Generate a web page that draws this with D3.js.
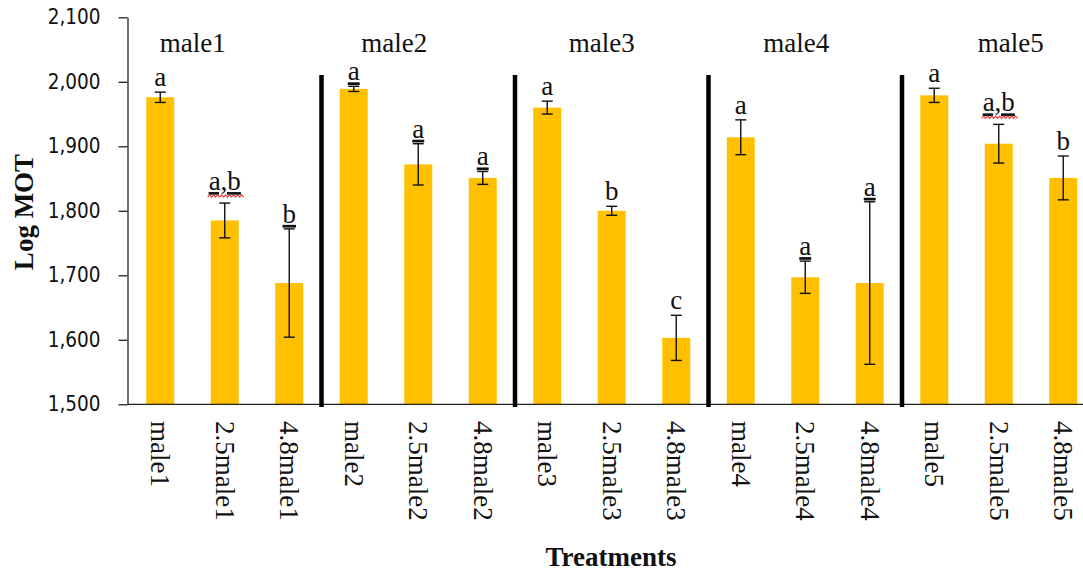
<!DOCTYPE html>
<html>
<head>
<meta charset="utf-8">
<script src="https://cdn.jsdelivr.net/npm/d3@7"></script>
<style>
  html, body { margin: 0; padding: 0; background: #fff; }
  svg { display: block; }
</style>
</head>
<body>
<svg id="chart" width="1083" height="574"></svg>
<script>
// ---- data ----
const categories = ["male1","2.5male1","4.8male1","male2","2.5male2","4.8male2","male3","2.5male3","4.8male3","male4","2.5male4","4.8male4","male5","2.5male5","4.8male5"];
const groups = ["male1","male2","male3","male4","male5"];
const means  = [1976, 1785, 1688, 1989, 1872, 1851, 1960, 1800, 1603, 1914, 1697, 1688, 1979, 1904, 1851];
const errors = [8, 27, 84, 4, 32, 10, 10, 7, 35, 27, 25, 126, 11, 30, 34];
const letters = ["a","a,b","b","a","a","a","a","b","c","a","a","a","a","a,b","b"];
const yTicks = [1500, 1600, 1700, 1800, 1900, 2000, 2100];

// ---- layout / style ----
const serif = "'Liberation Serif','Times New Roman',serif";
const sans = "'DejaVu Sans Condensed','DejaVu Sans',sans-serif";
const barColor = "#FFC000";
const groupLabelDx = [-32, -24, -10, -9, 12];
const underlined = new Set([1, 2, 3, 4, 5, 10, 11, 13]);
const spellChecked = new Set([1, 13]);

const svg = d3.select("#chart");
const x = d3.scaleBand().domain(categories).range([128, 1095.5]).paddingInner(0.566).paddingOuter(0.283);
const y = d3.scaleLinear().domain([1500, 2100]).range([404.3, 17.3]);

const data = categories.map((c, i) => ({ c, i, v: means[i], e: errors[i], l: letters[i] }));

// bars
svg.append("g").selectAll("rect").data(data).join("rect")
  .attr("x", d => x(d.c)).attr("width", x.bandwidth())
  .attr("y", d => y(d.v)).attr("height", d => y(1500) - y(d.v))
  .attr("fill", barColor);

// y axis
const yAxis = d3.axisLeft(y).tickValues(yTicks).tickSize(9).tickSizeOuter(0).tickPadding(18).tickFormat(d3.format(","));
const gy = svg.append("g").attr("transform", "translate(127.5,0)").call(yAxis);
gy.select(".domain").attr("stroke", "#222").attr("stroke-width", 1.3);
gy.selectAll(".tick line").attr("stroke", "#222").attr("stroke-width", 1.3);
gy.selectAll(".tick text").attr("font-family", sans).attr("font-size", 20.5).attr("fill", "#111");

// x axis line
svg.append("line").attr("x1", 127.5).attr("x2", 1083).attr("y1", y(1500)).attr("y2", y(1500))
  .attr("stroke", "#222").attr("stroke-width", 1.3);

// x labels rotated
svg.append("g").selectAll("text").data(data).join("text")
  .attr("transform", d => `translate(${x(d.c) + x.bandwidth() / 2},421) rotate(90)`)
  .attr("dominant-baseline", "central")
  .attr("font-family", serif).attr("font-size", 27).attr("fill", "#111")
  .text(d => d.c);

// group separators
const halfGap = x.step() * x.paddingInner() / 2;
svg.append("g").selectAll("line").data(groups.slice(1)).join("line")
  .attr("x1", (g, k) => x(categories[(k + 1) * 3]) - halfGap)
  .attr("x2", (g, k) => x(categories[(k + 1) * 3]) - halfGap)
  .attr("y1", 75).attr("y2", 407)
  .attr("stroke", "#000").attr("stroke-width", 4.5);

// group labels
svg.append("g").selectAll("text").data(groups).join("text")
  .attr("x", (g, k) => (x(categories[k * 3]) + x(categories[k * 3 + 2]) + x.bandwidth()) / 2 + groupLabelDx[k])
  .attr("y", 52)
  .attr("text-anchor", "middle")
  .attr("font-family", serif).attr("font-size", 27).attr("fill", "#111")
  .text(g => g);

// error bars
const eb = svg.append("g").attr("stroke", "#111").attr("stroke-width", 1.4);
data.forEach(d => {
  const cx = x(d.c) + x.bandwidth() / 2;
  eb.append("line").attr("x1", cx).attr("x2", cx).attr("y1", y(d.v + d.e)).attr("y2", y(d.v - d.e));
  eb.append("line").attr("x1", cx - 5.5).attr("x2", cx + 5.5).attr("y1", y(d.v + d.e)).attr("y2", y(d.v + d.e));
  eb.append("line").attr("x1", cx - 5.5).attr("x2", cx + 5.5).attr("y1", y(d.v - d.e)).attr("y2", y(d.v - d.e));
});

// significance letters
const lt = svg.append("g").selectAll("text").data(data).join("text")
  .attr("x", d => x(d.c) + x.bandwidth() / 2)
  .attr("y", d => y(d.v + d.e) - (spellChecked.has(d.i) ? 13 : 6))
  .attr("text-anchor", "middle")
  .attr("font-family", serif).attr("font-size", 27).attr("fill", "#111")
  .attr("text-decoration", d => underlined.has(d.i) ? "underline" : null)
  .text(d => d.l);

// red wavy spell-check underline
lt.each(function(d) {
  if (!spellChecked.has(d.i)) return;
  const b = this.getBBox();
  const yy = y(d.v + d.e) - 6;
  let p = `M${b.x - 1},${yy}`;
  for (let xx = b.x - 1; xx < b.x + b.width + 2; xx += 4) {
    p += ` L${xx + 2},${yy - 2.2} L${xx + 4},${yy}`;
  }
  svg.append("path").attr("d", p).attr("fill", "none").attr("stroke", "#f03c3c").attr("stroke-width", 1.1);
});

// axis titles
svg.append("text")
  .attr("transform", "translate(33,212) rotate(-90)")
  .attr("text-anchor", "middle")
  .attr("font-family", serif).attr("font-size", 27).attr("font-weight", "bold").attr("fill", "#111")
  .text("Log MOT");
svg.append("text")
  .attr("x", 611).attr("y", 566)
  .attr("text-anchor", "middle")
  .attr("font-family", serif).attr("font-size", 27).attr("font-weight", "bold").attr("fill", "#111")
  .text("Treatments");
</script>
</body>
</html>
